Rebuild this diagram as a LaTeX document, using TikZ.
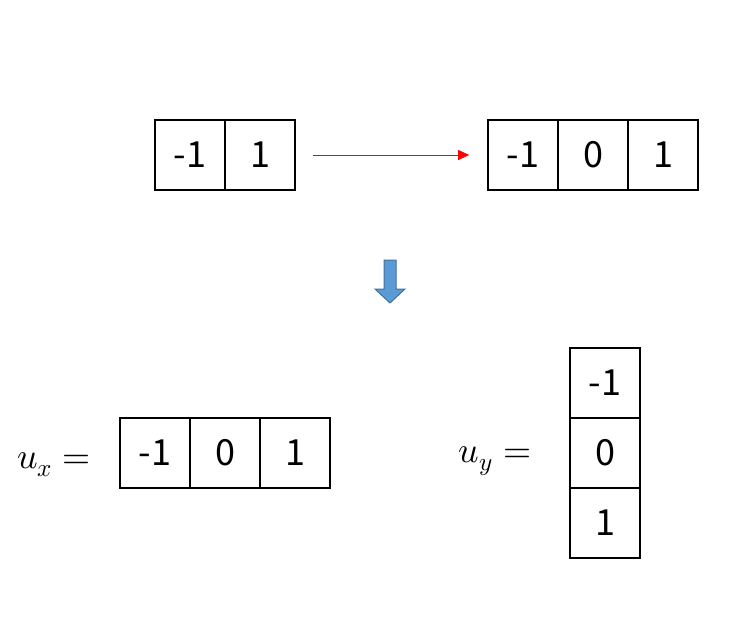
\documentclass[tikz,border=0pt]{standalone}
\usepackage{fontspec}
\usepackage{unicode-math}
\setmainfont{Noto Sans CJK KR}
\setmathfont{Latin Modern Math}
\usetikzlibrary{arrows.meta}
\definecolor{blkfill}{HTML}{5B9BD5}
\definecolor{blkline}{HTML}{41719C}
\tikzset{
  cell/.style={draw=black, line width=1.6pt, minimum width=70pt, minimum height=70pt,
    inner sep=0pt, font=\fontsize{36}{40}\selectfont},
  lbl/.style={inner sep=0pt, font=\fontsize{36}{40}\selectfont},
}
\begin{document}
\begin{tikzpicture}[x=1pt,y=-1pt]
\useasboundingbox (0,0) rectangle (736,627);
% top left array
\node[cell] (a1) at (190,155) {-1};
\node[cell] (a2) at (260,155) {1};
% top right array
\node[cell] (b1) at (523,155) {-1};
\node[cell] (b2) at (593,155) {0};
\node[cell] (b3) at (663,155) {1};
% red arrow
\draw[red, line width=0.8pt, -{Triangle[length=11pt,width=10pt]}]
  ([xshift=17pt]a2.east) -- ([xshift=-18pt]b1.west);
% block arrow
\draw[blkline, fill=blkfill, line width=1pt, line join=miter]
  (384,260) -- (396,260) -- (396,289) -- (405,289) -- (390,303) -- (375,289) -- (384,289) -- cycle;
% u_x
\node[lbl, anchor=base] (ux) at (54,468) {$u_x =$};
\node[cell] (c1) at (155,453) {-1};
\node[cell] (c2) at (225,453) {0};
\node[cell] (c3) at (295,453) {1};
% u_y
\node[lbl, anchor=base] (uy) at (495,462) {$u_y =$};
\node[cell] (d1) at (605,383) {-1};
\node[cell] (d2) at (605,453) {0};
\node[cell] (d3) at (605,523) {1};
\end{tikzpicture}
\end{document}
